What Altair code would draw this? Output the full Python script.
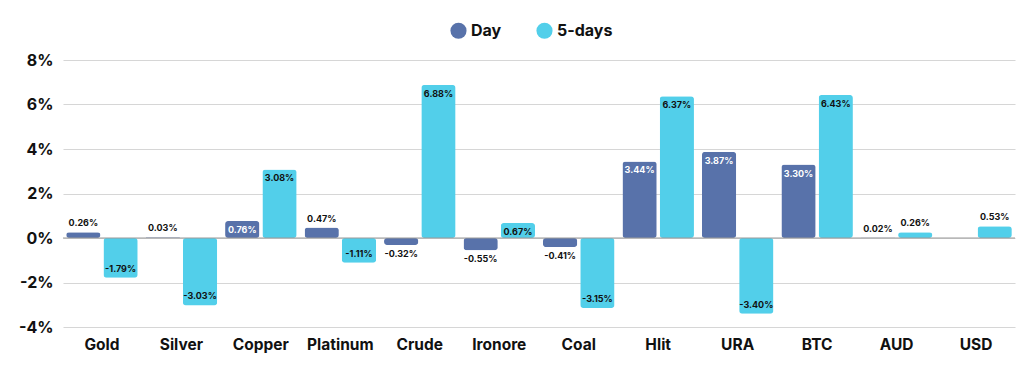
import altair as alt
import pandas as pd

categories = ["Gold", "Silver", "Copper", "Platinum", "Crude", "Ironore", "Coal", "Hlit", "URA", "BTC", "AUD", "USD"]
day = [0.26, 0.03, 0.76, 0.47, -0.32, -0.55, -0.41, 3.44, 3.87, 3.30, 0.02, None]
five_days = [-1.79, -3.03, 3.08, -1.11, 6.88, 0.67, -3.15, 6.37, -3.40, 6.43, 0.26, 0.53]
series_names = ["Day", "5-days"]
series_colors = ["#5872AA", "#52CFEA"]

rows = []
for i, c in enumerate(categories):
    for s, vals in zip(series_names, [day, five_days]):
        v = vals[i]
        if v is None:
            continue
        inside = abs(v) >= 0.6
        rows.append({
            "cat": c, "series": s, "value": v,
            "label": f"{v:.2f}%",
            "kind": ("pos" if v >= 0 else "neg") + ("_in" if inside else "_out"),
            "tcolor": "#ffffff" if (inside and s == "Day") else "#111111",
        })
df = pd.DataFrame(rows)

FONT = "Inter"

x = alt.X("cat:N", sort=categories, title=None,
          scale=alt.Scale(paddingInner=0.1, paddingOuter=0.04),
          axis=alt.Axis(labelAngle=0, labelFont=FONT, labelFontWeight="bold", labelFontSize=15.5,
                        labelColor="#111111", ticks=False, domain=False, labelPadding=10))
xo = alt.XOffset("series:N", sort=series_names, scale=alt.Scale(paddingInner=0.08))
y = alt.Y("value:Q", title=None,
          scale=alt.Scale(domain=[-4, 8], nice=False),
          axis=alt.Axis(values=[-4, -2, 0, 2, 4, 6, 8], labelExpr="datum.value + '%'",
                        labelFont=FONT, labelFontWeight="bold", labelFontSize=16, labelColor="#111111",
                        ticks=False, domain=False, gridColor="#d6d6d6", gridWidth=1.2, labelPadding=10))

base = alt.Chart(df)

bars = base.mark_bar(cornerRadius=3).encode(
    x=x, xOffset=xo, y=y,
    color=alt.Color("series:N", sort=series_names,
                    scale=alt.Scale(domain=series_names, range=series_colors),
                    legend=alt.Legend(title=None, orient="none", direction="horizontal",
                                      legendX=387, legendY=-38, symbolType="circle", symbolSize=260,
                                      labelFont=FONT, labelFontWeight="bold", labelFontSize=16,
                                      labelColor="#111111", columnPadding=34, symbolStrokeWidth=0)),
)

zero = alt.Chart(pd.DataFrame({"z": [0]})).mark_rule(color="#9a9a9a", strokeWidth=1.2).encode(y="z:Q")

def lab(kind, baseline, dy):
    return base.transform_filter(alt.datum.kind == kind).mark_text(
        font=FONT, fontWeight="bold", fontSize=9, baseline=baseline, dy=dy
    ).encode(x=x, xOffset=xo, y=y, text="label:N", color=alt.Color("tcolor:N", scale=None))

chart = alt.layer(
    bars, zero,
    lab("pos_in", "top", 5), lab("pos_out", "bottom", -4),
    lab("neg_in", "bottom", -4), lab("neg_out", "top", 5),
).properties(
    width=952, height=267,
    autosize=alt.AutoSizeParams(type="none"),
    padding={"left": 55, "top": 52, "right": 1, "bottom": 30},
).configure_view(stroke=None)

chart.save("out.html", embed_options={"renderer": "svg", "actions": False})
